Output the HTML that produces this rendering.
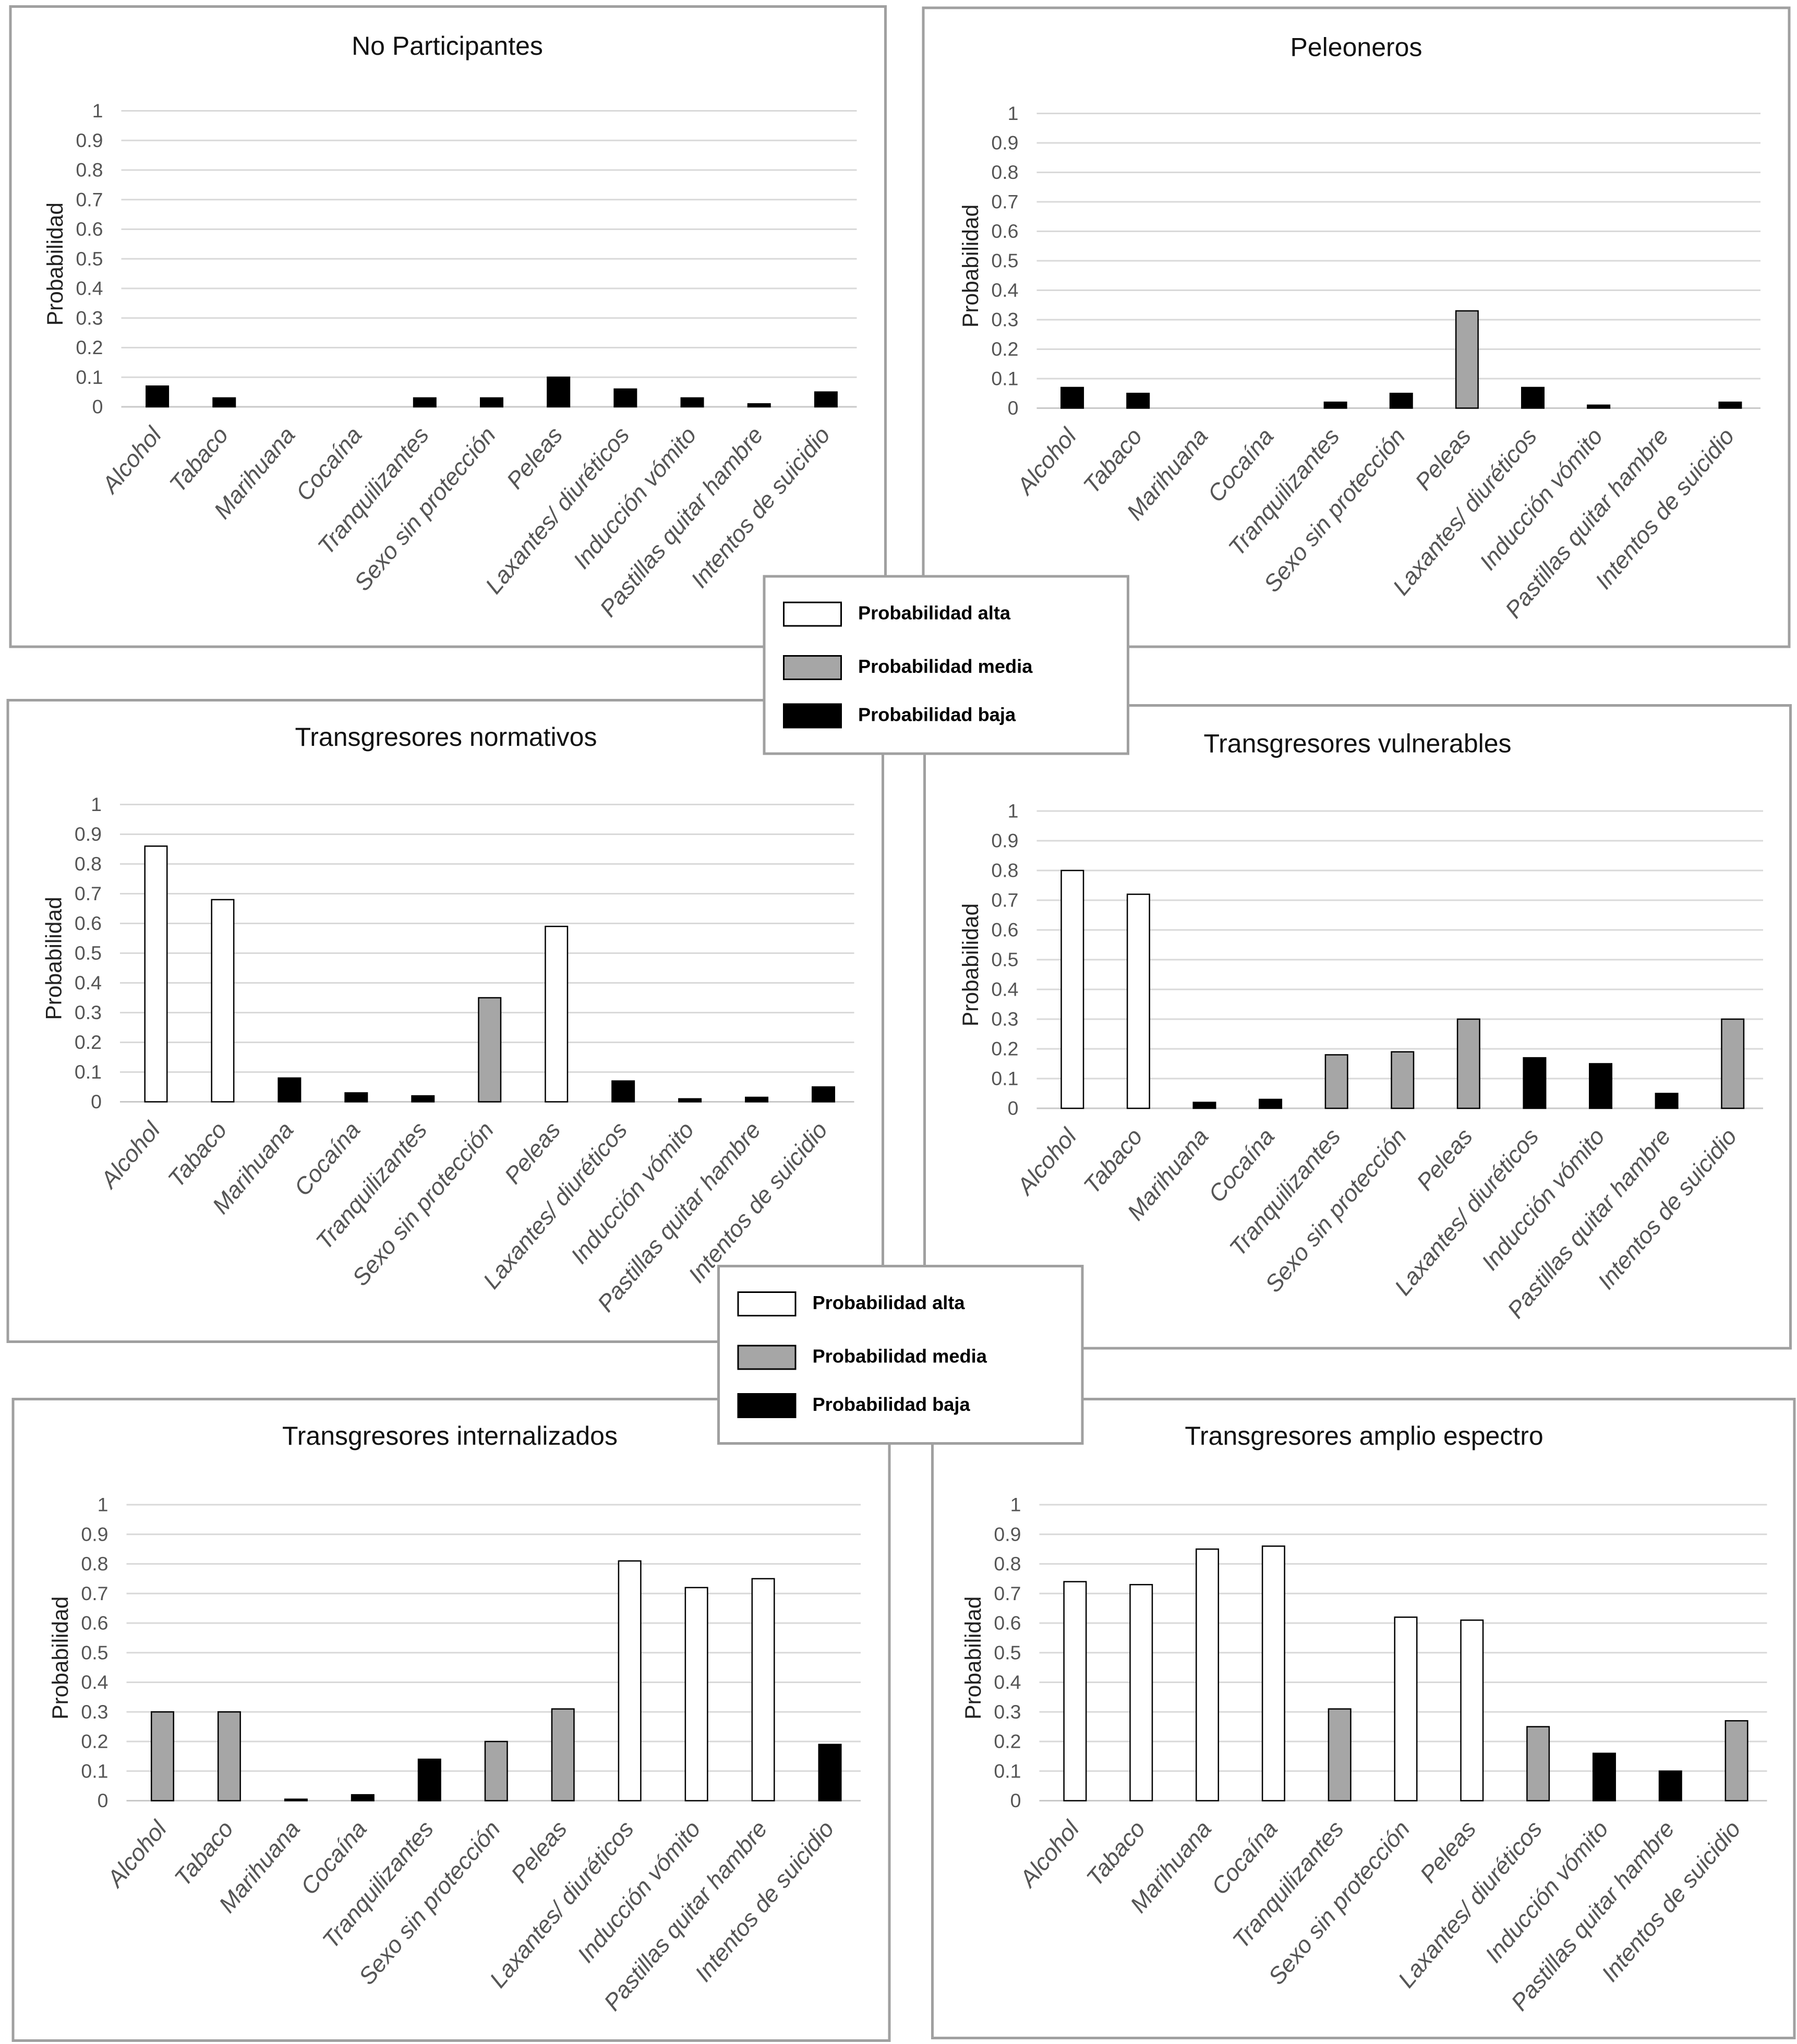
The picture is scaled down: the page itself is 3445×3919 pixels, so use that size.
<!DOCTYPE html>
<html><head><meta charset="utf-8">
<style>
html,body{margin:0;padding:0;background:#fff;}
svg{display:block;}
text{font-family:"Liberation Sans",sans-serif;}
</style></head>
<body>
<svg id="chart" xmlns="http://www.w3.org/2000/svg" width="3445" height="3919" viewBox="0 0 1378 1567.6" preserveAspectRatio="none">
<rect x="0" y="0" width="1378" height="1568" fill="#fff"/>
</svg>
<script>
const categories = ["Alcohol","Tabaco","Marihuana","Cocaína","Tranquilizantes","Sexo sin protección","Peleas","Laxantes/ diuréticos","Inducción vómito","Pastillas quitar hambre","Intentos de suicidio"];
const yTicks = ["0","0.1","0.2","0.3","0.4","0.5","0.6","0.7","0.8","0.9","1"];
const titles = ["No Participantes","Peleoneros","Transgresores normativos","Transgresores vulnerables","Transgresores internalizados","Transgresores amplio espectro"];
const valsNoPart = [0.07,0.03,0,0,0.03,0.03,0.10,0.06,0.03,0.01,0.05];
const lvlNoPart  = ["b","b","b","b","b","b","b","b","b","b","b"];
const valsPeleo = [0.07,0.05,0,0,0.02,0.05,0.33,0.07,0.01,0,0.02];
const lvlPeleo  = ["b","b","b","b","b","b","m","b","b","b","b"];
const valsNorm = [0.86,0.68,0.08,0.03,0.02,0.35,0.59,0.07,0.01,0.015,0.05];
const lvlNorm  = ["a","a","b","b","b","m","a","b","b","b","b"];
const valsVuln = [0.80,0.72,0.02,0.03,0.18,0.19,0.30,0.17,0.15,0.05,0.30];
const lvlVuln  = ["a","a","b","b","m","m","m","b","b","b","m"];
const valsInt = [0.30,0.30,0.005,0.02,0.14,0.20,0.31,0.81,0.72,0.75,0.19];
const lvlInt  = ["m","m","b","b","b","m","m","a","a","a","b"];
const valsAmp = [0.74,0.73,0.85,0.86,0.31,0.62,0.61,0.25,0.16,0.10,0.27];
const lvlAmp  = ["a","a","a","a","m","a","a","m","b","b","m"];
const legendLabels = ["Probabilidad alta","Probabilidad media","Probabilidad baja"];

const NS="http://www.w3.org/2000/svg";
const svg=document.getElementById('chart');
function mk(tag,attrs,parent){const e=document.createElementNS(NS,tag);for(const k in attrs)e.setAttribute(k,attrs[k]);(parent||svg).appendChild(e);return e;}
const fills={a:"#ffffff",m:"#a6a6a6",b:"#000000"};

const panels=[
 {box:[8,5,671,491],px0:93,px1:657,y0:312,y1:85,tx:343,ty:42,vals:valsNoPart,lv:lvlNoPart},
 {box:[708,6,664,490],px0:795,px1:1350,y0:313,y1:87,tx:1040,ty:43,vals:valsPeleo,lv:lvlPeleo},
 {box:[6,537,671,492],px0:92,px1:655,y0:845,y1:617,tx:342,ty:572,vals:valsNorm,lv:lvlNorm},
 {box:[709,541,664,493],px0:795,px1:1352,y0:850,y1:622,tx:1041,ty:577,vals:valsVuln,lv:lvlVuln},
 {box:[10,1073,672,492],px0:97,px1:660,y0:1381,y1:1154,tx:345,ty:1108,vals:valsInt,lv:lvlInt},
 {box:[715,1073,661,490],px0:797,px1:1355,y0:1381,y1:1154,tx:1046,ty:1108,vals:valsAmp,lv:lvlAmp}
];

panels.forEach((p,pi)=>{
  const g=mk('g',{});
  
  
  const b=mk('rect',{x:p.box[0],y:p.box[1],width:p.box[2],height:p.box[3],fill:'#fff',stroke:'#a0a0a0','stroke-width':2},g);
  
  
  const t=mk('text',{x:p.tx,y:p.ty,'text-anchor':'middle','font-size':20,fill:'#111'},g);
  t.textContent=titles[pi];
  
  
  const yScale=v=>p.y0-(p.y0-p.y1)*v;
  yTicks.forEach(tk=>{
    const v=parseFloat(tk), y=yScale(v);
    const l=mk('line',{x1:p.px0,x2:p.px1,y1:y,y2:y,stroke:v===0?'#c8c8c8':'#d9d9d9','stroke-width':1.2},g);
    
    
    const tl=mk('text',{x:p.px0-14,y:y+5,'text-anchor':'end','font-size':15,fill:'#555'},g);
    tl.textContent=tk;
    
    
  });
  const yt=mk('text',{transform:`translate(${p.px0-45},${(p.y0+p.y1)/2+4}) rotate(-90)`,'text-anchor':'middle','font-size':17,fill:'#222'},g);
  yt.textContent='Probabilidad';
  
  
  const band=(p.px1-p.px0)/categories.length;
  const xScale=i=>p.px0+band*(i+0.5)+2;
  p.vals.forEach((v,i)=>{
    const y=yScale(v),h=p.y0-y;
    if(h<=0) return;
    const r=mk('rect',{x:xScale(i)-8.5,y:y,width:17,height:h,fill:fills[p.lv[i]],stroke:'#000','stroke-width':1},g);
    
    
  });
  categories.forEach((c,i)=>{
    const x=xScale(i)+4,y=p.y0+22;
    const ct=mk('text',{transform:`translate(${x},${y}) rotate(-50)`,'text-anchor':'end','font-size':18,'font-style':'italic',fill:'#555'},g);
    ct.textContent=c;
    
    
  });
});

[[586,442],[551,971]].forEach((pos,li)=>{
  const g=mk('g',{});
  
  
  const r=mk('rect',{x:pos[0],y:pos[1],width:279,height:136,fill:'#fff',stroke:'#a0a0a0','stroke-width':2},g);
  
  
  const offs=[28,69,106];
  ["a","m","b"].forEach((k,i)=>{
    const sw=mk('rect',{x:pos[0]+15,y:pos[1]+offs[i]-8,width:44,height:18,fill:fills[k],stroke:'#000','stroke-width':1.2},g);
    
    
    const t=mk('text',{x:pos[0]+72,y:pos[1]+offs[i]+5,'font-size':14.5,'font-weight':'bold',fill:'#000'},g);
    t.textContent=legendLabels[i];
    
    
  });
});
</script>
</body></html>
